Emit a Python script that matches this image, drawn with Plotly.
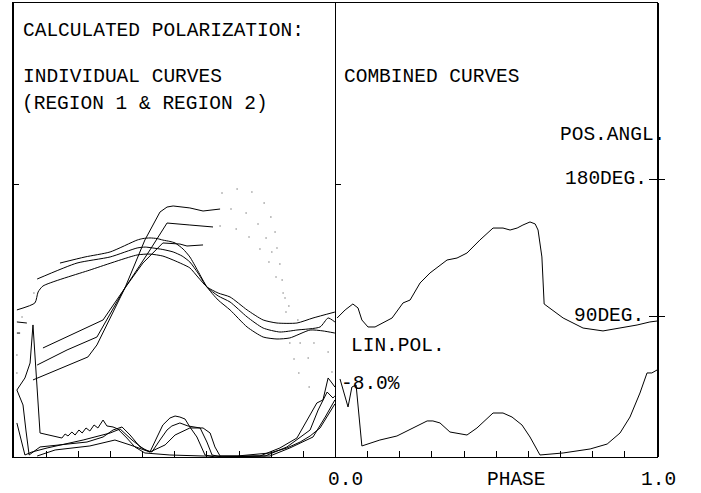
import plotly.graph_objects as go

# ---------------- data (phase, position angle in degrees, linear polarization in %) -------------
# Left panel: individual position-angle curves (smooth family)
G1_PH = [0.143,0.221,0.299,0.383,0.401,0.423,0.445,0.463,0.485,0.501,0.526,0.547,0.572,0.600,0.635,0.672,0.725,0.775,0.818,0.858,0.921,0.961,0.998]
G1_PA = [124.8,128.8,132.1,139.9,140.9,141.3,140.9,139.9,139.0,138.0,134.0,128.8,119.6,109.1,100.5,94.0,82.8,76.2,74.9,75.6,80.8,80.2,78.8]
G2_PH = [0.072,0.196,0.299,0.383,0.408,0.432,0.463,0.495,0.523,0.547,0.572,0.600,0.635,0.672,0.725,0.775,0.827,0.880,0.952,0.977,0.998]
G2_PA = [114.3,124.8,128.8,134.7,135.3,134.7,133.7,132.1,129.4,125.5,118.3,109.1,103.2,99.2,89.4,82.1,79.5,80.8,82.8,88.7,86.1]
G3_PH = [0.009,0.065,0.075,0.090,0.236,0.383,0.423,0.463,0.495,0.523,0.547,0.572,0.600,0.635,0.672,0.725,0.775,0.818,0.880,0.930,0.998]
G3_PA = [94.0,98.6,105.8,109.7,120.2,130.1,130.7,129.4,126.8,124.2,121.6,115.6,109.1,105.1,102.5,94.0,87.4,85.4,85.4,88.7,92.6]

# Left panel: individual position-angle curves (steep family)
SA_PH = [0.090,0.277,0.345,0.401,0.463,0.516,0.538,0.588]
SA_PA = [69.0,87.4,108.4,124.8,138.0,137.3,136.0,136.7]
SB_PH = [0.072,0.165,0.258,0.345,0.423,0.476,0.547,0.619]
SB_PA = [57.8,67.7,76.2,108.4,133.4,151.1,149.8,148.5]
SC_PH = [0.059,0.174,0.230,0.258,0.345,0.407,0.454,0.476,0.495,0.547,0.588,0.641]
SC_PA = [48.0,57.8,63.1,71.0,108.4,139.9,158.3,161.6,162.3,161.0,159.0,160.3]

# short fragments at the left edge
E1_PH = [0.009,0.040]
E1_PA = [86.1,85.4]
E2_PH = [0.009,0.019]
E2_PA = [78.8,78.8]

# sparse (dotted) position-angle points
DOT_PH = [0.647,0.694,0.740,0.778,0.675,0.722,0.799,0.641,0.691,0.759,0.812,0.731,0.784,0.765,0.802,0.818,
          0.793,0.827,0.815,0.834,0.837,0.843,0.855,0.846,0.883,0.858,0.890,0.933,0.871,0.915,0.977,0.886,
          0.989,0.918,0.009,0.009,0.062,0.025]
DOT_PA = [170.8,173.5,171.5,164.3,160.3,157.7,155.1,149.1,147.2,150.5,145.2,141.9,141.3,134.0,132.1,134.7,
          125.5,124.2,115.6,113.7,105.1,101.8,96.6,92.6,87.4,72.3,72.3,72.3,61.8,62.4,66.4,52.6,
          53.2,43.4,64.4,52.6,105.1,89.4]

# Left panel: individual linear-polarization curves
Q1_PH = [0.009,0.034,0.050,0.059,0.081,0.137,0.149,0.159,0.168,0.180,0.190,0.202,0.212,0.224,0.236,0.249,0.261,
         0.277,0.289,0.308,0.323,0.351,0.376,0.407,0.485,0.588,0.694,0.796,0.849,0.890,0.921,0.952,0.983,0.998]
Q1_P = [7.34,8.66,10.30,14.47,2.63,2.19,2.08,2.52,2.30,2.74,2.41,2.96,2.63,3.18,2.85,3.51,3.18,
        4.05,3.40,3.29,3.07,2.08,1.10,0.44,0.22,0.11,0.11,0.44,0.99,1.64,2.30,3.18,4.93,5.81]
Q2_PH = [0.009,0.028,0.037,0.047,0.081,0.227,0.277,0.308,0.336,0.361,0.392,0.423,0.445,0.463,0.485,0.501,0.516,
         0.532,0.547,0.569,0.594,0.625,0.765,0.827,0.880,0.911,0.942,0.961,0.977,0.989,0.998]
Q2_P = [7.34,5.70,2.96,0.22,1.10,1.64,2.19,2.96,3.29,2.41,1.10,0.55,2.19,3.51,4.27,4.49,4.38,
        4.16,3.29,2.19,0.22,0.0,0.11,0.99,2.08,4.05,5.92,6.25,8.66,8.11,7.67]
Q3_PH = [0.009,0.025,0.034,0.056,0.103,0.215,0.299,0.330,0.367,0.407,0.429,0.454,0.476,0.491,0.516,0.541,0.579,
         0.600,0.616,0.647,0.781,0.849,0.921,0.946,0.961,0.974,0.992,0.998]
Q3_P = [3.73,1.32,0.22,0.55,0.99,1.86,2.63,3.07,1.86,0.77,0.55,1.86,2.96,3.40,3.73,3.40,3.18,
        1.64,0.22,0.0,0.11,1.10,2.96,5.15,6.25,7.12,6.47,6.68]
Q4_PH = [0.072,0.128,0.236,0.314,0.361,0.423,0.470,0.501,0.547,0.588,0.610,0.625,0.641,0.796,0.858,0.930,0.968,0.992,0.998]
Q4_P = [0.11,0.77,1.21,1.86,1.32,0.55,1.32,2.41,3.18,3.18,2.63,1.10,0.11,0.11,0.99,2.19,4.38,5.92,6.25]

# Right panel: combined curves
COMB_PA_PH = [0.005,0.030,0.054,0.070,0.082,0.101,0.123,0.148,0.176,0.210,0.232,0.263,0.294,0.347,0.378,0.409,
              0.449,0.490,0.521,0.543,0.565,0.583,0.605,0.621,0.630,0.642,0.649,0.708,0.770,0.832,0.885,0.938,0.978,1.000]
COMB_PA = [88.7,94.0,97.9,95.3,87.4,82.8,82.8,85.4,88.7,98.6,100.5,111.7,118.3,126.8,128.1,131.4,
           139.9,147.8,147.8,146.5,147.8,149.8,151.8,150.5,146.5,128.8,97.9,88.7,82.1,80.2,82.1,84.1,86.1,86.7]
COMB_P_PH = [0.014,0.039,0.051,0.064,0.082,0.138,0.191,0.241,0.285,0.303,0.325,0.356,0.409,0.440,0.490,0.521,
             0.549,0.580,0.605,0.636,0.708,0.792,0.845,0.885,0.916,0.947,0.969,0.984,0.994,1.000]
COMB_P = [8.55,5.48,7.67,7.89,1.21,1.86,2.30,3.18,3.95,3.95,3.73,2.74,2.41,3.18,4.82,4.82,
          4.38,3.51,2.19,0.22,0.44,0.88,1.42,2.63,4.38,7.01,9.21,9.21,9.42,9.53]

PHASE_TICKS = [0.1,0.2,0.3,0.4,0.5,0.6,0.7,0.8,0.9]
PA_TICKS_RIGHT = [90, 180]
PA_RANGE = [-2.63, 295.66]
POL_RANGE = [0.0, 49.75]

FONT = "Liberation Mono"
INK = "black"
FS = 19.5

fig = go.Figure()

def line(x, y, xa, ya, shape="linear"):
    fig.add_trace(go.Scatter(x=x, y=y, xaxis=xa, yaxis=ya, mode="lines",
                             line=dict(color=INK, width=1, shape=shape, smoothing=0.6),
                             hoverinfo="skip", showlegend=False))

for px, py in [(G1_PH, G1_PA), (G2_PH, G2_PA), (G3_PH, G3_PA)]:
    line(px, py, "x", "y", "spline")
for px, py in [(SA_PH, SA_PA), (SB_PH, SB_PA), (SC_PH, SC_PA), (E1_PH, E1_PA), (E2_PH, E2_PA)]:
    line(px, py, "x", "y")
fig.add_trace(go.Scatter(x=DOT_PH, y=DOT_PA, xaxis="x", yaxis="y", mode="markers",
                         marker=dict(color="#888", size=1.6), hoverinfo="skip", showlegend=False))
for px, py in [(Q1_PH, Q1_P), (Q2_PH, Q2_P), (Q3_PH, Q3_P), (Q4_PH, Q4_P)]:
    line(px, py, "x", "y3")
line(COMB_PA_PH, COMB_PA, "x2", "y2")
line(COMB_P_PH, COMB_P, "x2", "y4")
# empty traces so that the right-hand tick axes are drawn
for ya in ["y5", "y6"]:
    fig.add_trace(go.Scatter(x=[None], y=[None], xaxis="x2", yaxis=ya, mode="lines",
                             hoverinfo="skip", showlegend=False))

def xaxis_cfg(domain, anchor):
    return dict(domain=domain, anchor=anchor, range=[0, 1], showgrid=False, zeroline=False,
                showline=True, linecolor=INK, mirror=True, ticks="inside", ticklen=6,
                tickcolor=INK, tickvals=PHASE_TICKS, showticklabels=False)

ycommon = dict(showgrid=False, zeroline=False, showticklabels=False)

fig.update_layout(
    width=701, height=493,
    margin=dict(l=14, r=44, t=3, b=36),
    paper_bgcolor="white", plot_bgcolor="white",
    font=dict(family=FONT, color=INK, size=FS),
    xaxis=xaxis_cfg([0, 0.5], "y"),
    xaxis2=xaxis_cfg([0.5, 1], "y2"),
    yaxis=dict(anchor="x", range=PA_RANGE, showline=True, linecolor=INK, linewidth=1.5, mirror=False,
               ticks="inside", ticklen=5, tickcolor=INK, tickvals=[176.1], **ycommon),
    yaxis2=dict(anchor="x2", range=PA_RANGE, showline=True, linecolor=INK, linewidth=1, mirror=True,
                ticks="inside", ticklen=5, tickcolor=INK, tickvals=[176.1], **ycommon),
    yaxis3=dict(anchor="x", overlaying="y", range=POL_RANGE, showline=False, ticks="", **ycommon),
    yaxis4=dict(anchor="x2", overlaying="y2", range=POL_RANGE, showline=False, ticks="", **ycommon),
    yaxis5=dict(anchor="x2", overlaying="y2", side="right", range=PA_RANGE, showline=True,
                linecolor=INK, linewidth=1.5,
                ticks="outside", ticklen=6, tickcolor=INK, tickvals=PA_TICKS_RIGHT, **ycommon),
    yaxis6=dict(anchor="x2", overlaying="y2", side="right", range=PA_RANGE, showline=False,
                ticks="inside", ticklen=8, tickcolor=INK, tickvals=PA_TICKS_RIGHT, **ycommon),
)

def note(text, x, y, xanchor="left", yref="paper"):
    fig.add_annotation(text=text, x=x, y=y, xref="paper", yref=yref,
                       xanchor=xanchor, yanchor="middle", showarrow=False,
                       font=dict(family=FONT, size=FS, color=INK))

note("CALCULATED POLARIZATION:", 0.011, 0.938)
note("INDIVIDUAL CURVES", 0.011, 0.837)
note("(REGION 1 &amp; REGION 2)", 0.010, 0.778)
note("COMBINED CURVES", 0.510, 0.837)
note("POS.ANGL.", 0.846, 0.709)
note("180DEG.", 0.988, 180, xanchor="right", yref="y2")
note("90DEG.", 0.983, 90, xanchor="right", yref="y2")
note("LIN.POL.", 0.521, 0.2445)
note("-8.0%", 0.505, 8.0, yref="y4")
note("0.0", 0.515, -0.051, xanchor="center")
note("PHASE", 0.782, -0.051, xanchor="center")
note("1.0", 1.0016, -0.051, xanchor="center")

fig.write_html("out.html")
